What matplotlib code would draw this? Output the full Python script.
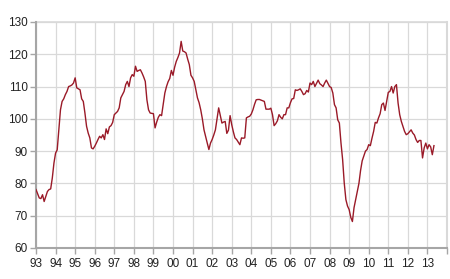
### Monthly index, Jan 1993 - May 2013, redrawn as a simple line chart
import matplotlib
matplotlib.use('Agg')
import matplotlib.pyplot as plt
import numpy as np

### Some general adjustable settings
lnwdth = 1.0         # line width of the series
fntsz = 8.5          # tick label size
linecol = '#9a1a28'  # dark red line
gridcol = '#d9d9d9'
spinecol = '#a6a6a6'

start_year = 1993
# monthly values, one row per year (Jan..Dec)
values = [
    78.1, 76.8, 75.5, 75.3, 76.5, 74.4, 76.0, 77.5, 78.1, 78.3, 81.7, 86.3,    # 1993
    89.4, 90.4, 96.6, 102.8, 105.4, 106.2, 107.5, 108.5, 110.0, 110.2, 110.5, 111.1,  # 1994
    112.7, 109.6, 109.3, 109.0, 106.2, 105.4, 101.8, 97.7, 95.6, 94.1, 91.0, 90.7,   # 1995
    91.5, 92.5, 93.6, 94.6, 94.1, 95.1, 93.6, 96.9, 95.4, 97.5, 97.9, 98.9,     # 1996
    101.3, 101.8, 102.3, 103.4, 106.5, 107.5, 108.5, 110.6, 111.6, 110.0, 112.7, 113.7,  # 1997
    113.2, 116.3, 114.7, 115.0, 115.2, 114.2, 113.0, 111.6, 105.9, 102.8, 101.8, 101.7,  # 1998
    101.6, 97.2, 99.0, 100.5, 101.3, 101.0, 104.5, 108.0, 110.0, 111.5, 112.5, 115.0,   # 1999
    113.5, 116.0, 117.8, 119.0, 120.4, 124.0, 121.0, 120.8, 120.4, 118.5, 116.8, 113.5,  # 2000
    112.7, 111.6, 109.0, 106.5, 105.0, 102.8, 100.0, 96.6, 94.5, 92.5, 90.5, 92.5,     # 2001
    93.6, 95.0, 96.6, 100.0, 103.4, 101.0, 98.7, 99.0, 99.2, 95.5, 96.5, 101.0,       # 2002
    98.2, 96.0, 94.1, 93.6, 92.8, 92.0, 94.1, 94.0, 94.1, 100.3, 100.6, 100.8,       # 2003
    101.5, 102.8, 104.5, 105.9, 106.0, 106.0, 105.8, 105.6, 105.4, 103.0, 103.0, 103.0,  # 2004
    103.3, 101.3, 97.9, 98.5, 99.4, 101.3, 100.5, 100.0, 101.3, 101.3, 103.4, 103.4,   # 2005
    105.0, 106.2, 106.3, 109.0, 108.8, 109.0, 109.3, 108.5, 107.5, 107.8, 108.8, 108.3,  # 2006
    111.1, 110.6, 111.6, 110.0, 111.0, 112.0, 110.9, 110.5, 110.0, 111.1, 112.0, 111.0,  # 2007
    110.0, 109.7, 108.0, 104.4, 103.4, 99.7, 98.7, 92.5, 87.4, 80.1, 75.0, 73.0,      # 2008
    71.9, 69.5, 68.2, 72.5, 75.0, 77.5, 80.0, 84.0, 87.0, 88.5, 90.0, 90.5,          # 2009
    92.0, 91.7, 94.0, 96.1, 98.9, 98.7, 100.3, 101.6, 104.4, 104.9, 102.6, 105.4,     # 2010
    108.2, 108.5, 110.0, 108.0, 110.0, 110.6, 104.9, 101.3, 99.2, 97.7, 96.1, 95.1,   # 2011
    95.4, 96.0, 96.6, 95.6, 95.0, 93.6, 92.7, 93.3, 93.3, 87.9, 91.0, 92.5,          # 2012
    90.7, 92.0, 91.3, 88.9, 91.7,                                                   # 2013
]
year_ticks = list(range(1993, 2015))
year_labels = ['%02d' % (y % 100) for y in range(1993, 2014)] + ['']
y_ticks = [60, 70, 80, 90, 100, 110, 120, 130]

x = start_year + np.arange(len(values)) / 12.0

fig = plt.figure(figsize=(4.5, 2.79), dpi=100)
ax1 = fig.add_axes([36/450, 1 - 248/279, (447-36)/450, (248-22)/279])

ax1.plot(x, values, color=linecol, lw=lnwdth, zorder=3)

# Format stuff
ax1.set_xlim(1993, 2014)
ax1.set_ylim(60, 130)
ax1.set_xticks(year_ticks)
ax1.set_xticklabels(year_labels)
ax1.set_yticks(y_ticks)
ax1.grid(True, color=gridcol, lw=0.9, zorder=0)
ax1.set_axisbelow(True)
# outer grid lines on the right and top edge, so they are not clipped
ax1.axvline(2014, color=gridcol, lw=1.5, clip_on=False, zorder=0)
ax1.axhline(130, color=gridcol, lw=1.2, clip_on=False, zorder=0)

for s in ['top', 'right']:
    ax1.spines[s].set_visible(False)
for s in ['left', 'bottom']:
    ax1.spines[s].set_color(spinecol)
    ax1.spines[s].set_linewidth(1.5)

ax1.tick_params(axis='both', colors=spinecol, labelcolor='#222222', labelsize=fntsz,
                length=4, width=1, direction='out')
ax1.tick_params(axis='x', pad=3)
ax1.tick_params(axis='y', pad=2)

for tick in ax1.get_xticklabels() + ax1.get_yticklabels():
    tick.set_fontname('Liberation Sans')

plt.savefig('out.png', dpi=100)
